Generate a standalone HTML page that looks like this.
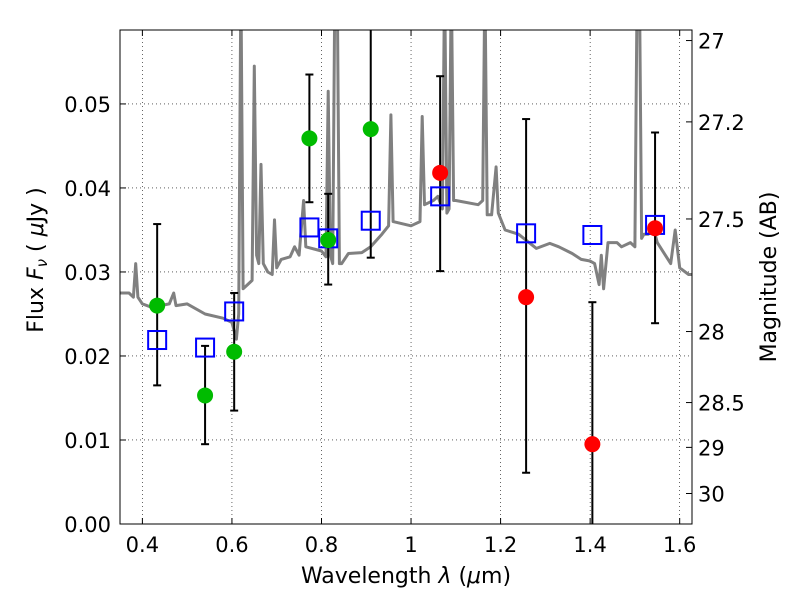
<!DOCTYPE html>
<html><head><meta charset="utf-8"><style>body{margin:0;background:#fff}svg{display:block;font-family:"DejaVu Sans","Liberation Sans",sans-serif}</style></head>
<body>
<svg id="c" width="800" height="600"></svg>
<script>
const xTicks=[0.4,0.6,0.8,1.0,1.2,1.4,1.6];
const xTickLabels=["0.4","0.6","0.8","1","1.2","1.4","1.6"];
const yTicks=[0,0.01,0.02,0.03,0.04,0.05];
const yTickLabels=["0.00","0.01","0.02","0.03","0.04","0.05"];
const magTicks=[27,27.2,27.5,28,28.5,29,30];
const magLabels=["27","27.2","27.5","28","28.5","29","30"];
const specLam=[0.35,0.37,0.38,0.385,0.39,0.40,0.42,0.44,0.46,0.47,0.475,0.50,0.54,0.58,0.60,0.61,0.615,0.62,0.625,0.635,0.645,0.65,0.655,0.66,0.665,0.67,0.68,0.69,0.695,0.70,0.71,0.73,0.74,0.75,0.76,0.765,0.80,0.81,0.815,0.82,0.825,0.83,0.835,0.84,0.845,0.86,0.89,0.91,0.935,0.95,0.955,0.96,1.0,1.02,1.025,1.03,1.05,1.06,1.07,1.075,1.08,1.085,1.09,1.095,1.10,1.15,1.16,1.165,1.17,1.18,1.19,1.195,1.21,1.24,1.28,1.31,1.33,1.36,1.38,1.40,1.41,1.42,1.425,1.43,1.44,1.46,1.47,1.49,1.50,1.505,1.51,1.515,1.52,1.53,1.54,1.55,1.58,1.59,1.60,1.62,1.63];
const specFlux=[0.0275,0.0275,0.027,0.031,0.027,0.0262,0.0258,0.026,0.0262,0.0275,0.026,0.0262,0.025,0.0245,0.024,0.022,0.025,0.065,0.028,0.0285,0.029,0.0545,0.032,0.031,0.0428,0.031,0.030,0.0297,0.0362,0.0305,0.0315,0.0318,0.033,0.032,0.0385,0.033,0.0325,0.0318,0.0515,0.032,0.031,0.065,0.065,0.031,0.031,0.0322,0.0323,0.033,0.0345,0.0355,0.0487,0.036,0.0355,0.036,0.0485,0.038,0.0385,0.039,0.0375,0.065,0.037,0.0375,0.065,0.0385,0.0385,0.038,0.0385,0.065,0.0368,0.0368,0.0425,0.037,0.035,0.0345,0.0328,0.0334,0.033,0.0322,0.0315,0.0313,0.031,0.0285,0.032,0.028,0.0335,0.0335,0.033,0.0335,0.033,0.065,0.065,0.034,0.0345,0.0345,0.0355,0.0335,0.031,0.035,0.0305,0.0297,0.0297];
const obsLam=[0.433,0.54,0.605,0.773,0.815,0.91,1.065,1.257,1.405,1.545];
const obsFlux=[0.026,0.0153,0.0205,0.0459,0.0338,0.047,0.0418,0.027,0.0095,0.0352];
const obsHi=[0.0357,0.0212,0.0275,0.0535,0.0393,0.07,0.0533,0.0482,0.0264,0.0466];
const obsLo=[0.0165,0.0095,0.0135,0.0383,0.0285,0.0317,0.0301,0.0061,-0.01,0.0239];
const obsColor=["#00bb00","#00bb00","#00bb00","#00bb00","#00bb00","#00bb00","#ff0000","#ff0000","#ff0000","#ff0000"];
const modelFlux=[0.0219,0.021,0.0253,0.0353,0.034,0.0361,0.039,0.0346,0.0344,0.0356];

const L=120,R=692,T=30,B=524,X0=0.35,X1=1.6275,Y0=0,Y1=0.0588;
const sx=v=>L+(v-X0)/(X1-X0)*(R-L);
const sy=v=>B-(v-Y0)/(Y1-Y0)*(B-T);
const magToFlux=m=>Math.pow(10,(8.9-m)/2.5)*1e6;
const NS="http://www.w3.org/2000/svg";
const svg=document.getElementById('c');
function mk(tag,attrs,parent){const e=document.createElementNS(NS,tag);for(const k in attrs)e.setAttribute(k,attrs[k]);(parent||svg).appendChild(e);return e;}
const defs=mk('defs',{});const cp=mk('clipPath',{id:'clip'},defs);mk('rect',{x:L,y:T,width:R-L,height:B-T},cp);
const grid=mk('g',{stroke:'#000','stroke-width':0.6,'stroke-dasharray':'1,3'});


xTicks.forEach(v=>mk('line',{x1:sx(v),x2:sx(v),y1:T,y2:B},grid));
yTicks.forEach(v=>mk('line',{x1:L,x2:R,y1:sy(v),y2:sy(v)},grid));
const plot=mk('g',{'clip-path':'url(#clip)'});
let d='';specLam.forEach((l,i)=>{d+=(i?'L':'M')+sx(l).toFixed(1)+','+sy(specFlux[i]).toFixed(1);});
const sp=mk('path',{d:d,fill:'none',stroke:'#808080','stroke-width':3,'stroke-linejoin':'round'},plot);


obsLam.forEach((l,i)=>{
 const g=mk('g',{stroke:'#000','stroke-width':2},plot);
 
 
 mk('line',{x1:sx(l),x2:sx(l),y1:sy(obsHi[i]),y2:sy(obsLo[i])},g);
 mk('line',{x1:sx(l)-4,x2:sx(l)+4,y1:sy(obsHi[i]),y2:sy(obsHi[i])},g);
 mk('line',{x1:sx(l)-4,x2:sx(l)+4,y1:sy(obsLo[i]),y2:sy(obsLo[i])},g);
});
obsLam.forEach((l,i)=>{
 const s=mk('rect',{x:sx(l)-9,y:sy(modelFlux[i])-9,width:18,height:18,fill:'none',stroke:'#0000ff','stroke-width':2},plot);
 
 
});
obsLam.forEach((l,i)=>{
 const c=mk('circle',{cx:sx(l),cy:sy(obsFlux[i]),r:8,fill:obsColor[i]},plot);
 
 
});
const ax=mk('g',{stroke:'#000','stroke-width':1});


mk('rect',{x:L,y:T,width:R-L,height:B-T,fill:'none'},ax);
xTicks.forEach(v=>{mk('line',{x1:sx(v),x2:sx(v),y1:B,y2:B-6},ax);mk('line',{x1:sx(v),x2:sx(v),y1:T,y2:T+6},ax);});
yTicks.forEach(v=>mk('line',{x1:L,x2:L+6,y1:sy(v),y2:sy(v)},ax));
magTicks.forEach(m=>mk('line',{x1:R,x2:R-6,y1:sy(magToFlux(m)),y2:sy(magToFlux(m))},ax));
const tx=mk('g',{'font-size':21,fill:'#000'});
xTicks.forEach((v,i)=>{const t=mk('text',{x:sx(v),y:B+28,'text-anchor':'middle'},tx);t.textContent=xTickLabels[i];
 });
yTicks.forEach((v,i)=>{const t=mk('text',{x:L-9,y:sy(v)+8,'text-anchor':'end'},tx);t.textContent=yTickLabels[i];
 });
magTicks.forEach((m,i)=>{const t=mk('text',{x:R+6,y:sy(magToFlux(m))+8,'text-anchor':'start'},tx);t.textContent=magLabels[i];
 });
</script>
<svg width="800" height="600" style="position:absolute;left:0;top:0">
<text x="406" y="583" text-anchor="middle" font-size="22" font-family="DejaVu Sans,sans-serif">Wavelength  <tspan font-style="italic">λ</tspan> (<tspan font-style="italic">μ</tspan>m)</text>
<text transform="translate(43,260) rotate(-90)" text-anchor="middle" font-size="22" font-family="DejaVu Sans,sans-serif">Flux  <tspan font-style="italic">F</tspan><tspan font-style="italic" font-size="15" dy="4">ν</tspan><tspan dy="-4">  (  </tspan><tspan font-style="italic">μ</tspan>Jy )</text>
<text transform="translate(776,277) rotate(-90)" text-anchor="middle" font-size="22" font-family="DejaVu Sans,sans-serif">Magnitude (AB)</text>
</svg>
</body></html>
